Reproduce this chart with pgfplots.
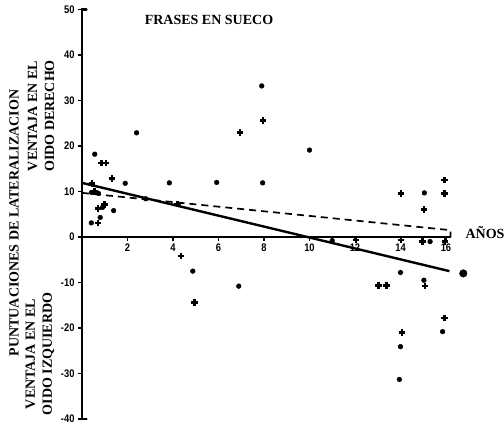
\documentclass[border=0pt]{standalone}
\usepackage{fontspec}
\setmainfont{Liberation Serif}
\newfontfamily\tickfont{Liberation Sans}[UprightFont=* Bold, FakeStretch=0.85]
\usepackage{pgfplots}
\pgfplotsset{compat=1.18}

\begin{document}
\begin{tikzpicture}
  \begin{axis}[
    at={(0,0)}, anchor=origin,
    x=22.75pt, y=4.55pt,
    xmin=0, xmax=16.2, ymin=-40, ymax=50,
    axis x line*=middle, axis y line*=left,
    clip=false,
    xtick={2,4,...,16}, xticklabels={2,4,6,8,10,12,14,16},
    ytick={-40,-30,...,50},
    yticklabels={-40,-30,-20,-10,0,10,20,30,40,50},
    tick align=outside, major tick length=4pt,
    tick style={line width=1.4pt, black},
    ticklabel style={font=\tickfont\fontsize{11}{12}\selectfont},
    xticklabel style={yshift=1pt},
  ]
    % heavy axis lines as in the scan
    \draw[line width=2.2pt, line cap=round] (axis cs:0.2,50) -- (axis cs:0,50)
      -- (axis cs:0,-40) -- (axis cs:0.2,-40);
    \draw[line width=2.2pt] (axis cs:0,0) -- (axis cs:16.2,0);
    % regression lines
    \addplot[line width=2.4pt, no marks] coordinates {(0,11.9) (16.15,-7.5)};
    \addplot[line width=1.7pt, no marks, dash pattern=on 7pt off 5pt]
      coordinates {(0,9.7) (16.2,1.5) (16.2,0)};
    % dots
    \addplot[only marks, mark=*, mark size=2.4pt, black] coordinates {
      (0.56,18.2) (1.9,11.8) (0.42,9.8) (0.72,9.6) (0.9,6.5) (1.39,5.8)
      (0.8,4.3) (0.41,3.1) (2.4,22.9) (2.8,8.4) (3.84,11.9) (5.92,12.0)
      (7.94,11.9) (7.9,33.2) (10.0,19.1) (4.87,-7.5) (6.89,-10.8)
      (15.05,9.7) (11.0,-0.8) (14.0,-7.8) (15.03,-9.5) (15.85,-20.8)
      (14.0,-24.1) (13.95,-31.3) (15.3,-1.0)
    };
    % crosses
    \addplot[only marks, mark=+, mark size=3.3pt, black,
      mark options={line width=2.6pt}] coordinates {
      (0.85,16.3) (1.05,16.3) (1.32,12.8) (0.44,11.8) (0.55,10.0)
      (0.7,6.3) (1.0,7.2) (0.7,3.1) (6.95,23.0) (7.96,25.6) (4.19,7.25)
      (4.35,-4.2) (4.94,-14.4) (14.02,9.6) (15.03,6.1) (15.93,9.6)
      (15.93,12.5) (12.04,-0.7) (14.02,-0.7) (14.96,-1.0) (15.96,-1.0)
      (13.03,-10.6) (13.39,-10.6) (15.08,-10.8) (15.93,-17.8) (14.07,-21.0)
    };
    % large dot
    \addplot[only marks, mark=*, mark size=3.8pt, black] coordinates {(16.76,-8.0)};
  \end{axis}
  \begin{scope}[every node/.style={font=\bfseries\fontsize{14}{17}\selectfont}]
    \node at (127pt,217pt) {FRASES EN SUECO};
    \node[anchor=west] at (380pt,4pt) {AÑOS};
    \node[rotate=90] at (-68pt,14pt) {PUNTUACIONES DE LATERALIZACION};
    \node[rotate=90, align=center] at (-41pt,121pt) {VENTAJA EN EL\\OIDO DERECHO};
    \node[rotate=90, align=center] at (-42pt,-117pt) {VENTAJA EN EL\\OIDO IZQUIERDO};
  \end{scope}
  \pgfresetboundingbox
  \path[use as bounding box] (-82pt,-192pt) rectangle (422pt,237pt);
\end{tikzpicture}
\end{document}
